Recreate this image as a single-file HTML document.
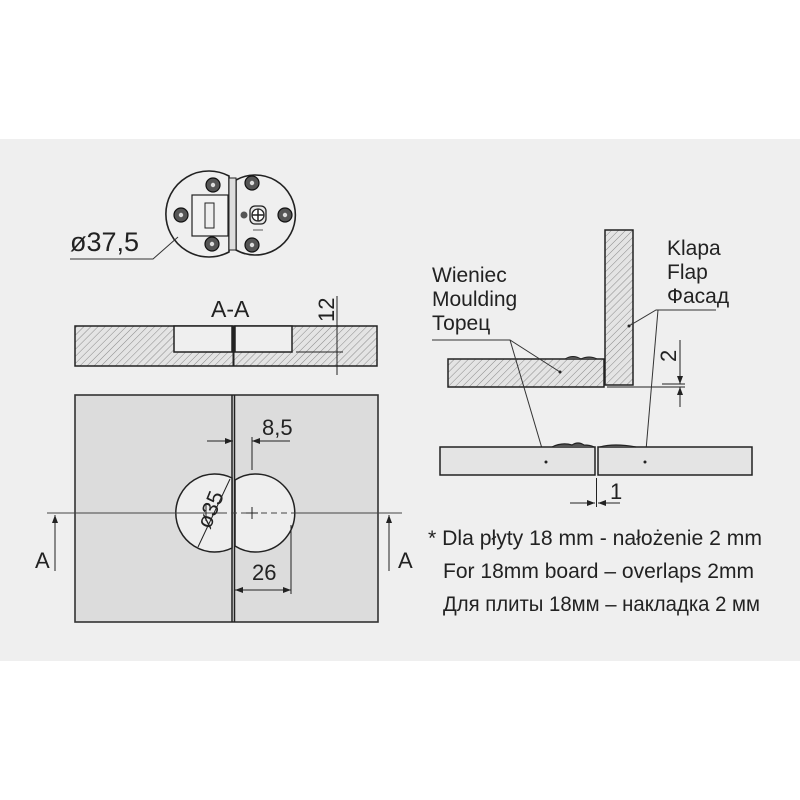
<!DOCTYPE html>
<html><head><meta charset="utf-8"><style>
html,body{margin:0;padding:0;background:#fff;}
svg{display:block;}
text{font-family:"Liberation Sans","DejaVu Sans",sans-serif;fill:#222;}
</style></head><body>
<svg width="800" height="800" viewBox="0 0 800 800" xmlns="http://www.w3.org/2000/svg">
<defs>
<pattern id="h" patternUnits="userSpaceOnUse" width="5" height="5" patternTransform="rotate(45)">
<rect width="5" height="5" fill="#e4e4e4"/><line x1="0" y1="0" x2="0" y2="5" stroke="#8a8a8a" stroke-width="1"/>
</pattern>
<marker id="ar" markerWidth="8" markerHeight="6" refX="8" refY="3" orient="auto" markerUnits="userSpaceOnUse"><path d="M0,0 L8,3 L0,6 z" fill="#222"/></marker>
</defs>
<rect x="0" y="139" width="800" height="522" fill="#efefef"/>

<!-- hinge top view -->
<g stroke="#222" stroke-width="1.6" fill="#efefef">
<path d="M229,176 A43,43 0 1 0 229,252 Z"/>
<path d="M236,180 A40,40 0 1 1 236,250 Z"/>
<rect x="229" y="178" width="7" height="72" fill="#ddd" stroke-width="1"/>
<rect x="192" y="195" width="36" height="41" fill="#f2f2f2" stroke-width="1.2"/>
<rect x="205" y="203" width="9" height="25" fill="#eee" stroke-width="1"/>
</g>
<g fill="#555" stroke="#111" stroke-width="1.2">
<circle cx="213" cy="185" r="7"/><circle cx="181" cy="215" r="7"/><circle cx="212" cy="244" r="7"/>
<circle cx="252" cy="183" r="7"/><circle cx="285" cy="215" r="7"/><circle cx="252" cy="245" r="7"/>
</g>
<g fill="#ddd"><circle cx="213" cy="185" r="2.2"/><circle cx="181" cy="215" r="2.2"/><circle cx="212" cy="244" r="2.2"/>
<circle cx="252" cy="183" r="2.2"/><circle cx="285" cy="215" r="2.2"/><circle cx="252" cy="245" r="2.2"/></g>
<rect x="250" y="206" width="16" height="18" rx="5" fill="#e5e5e5" stroke="#222" stroke-width="1.3"/>
<circle cx="258" cy="215" r="6" fill="#fff" stroke="#222" stroke-width="1.3"/>
<path d="M252,215h12M258,209v12" stroke="#222" stroke-width="1.5"/>
<circle cx="244" cy="215" r="3.5" fill="#555"/>
<path d="M253,230h10" stroke="#333" stroke-width="0.8"/>
<text x="70" y="251" font-size="27">ø37,5</text>
<polyline points="70,259 153,259 178,237" fill="none" stroke="#333" stroke-width="1"/>

<!-- section A-A -->
<text x="211" y="317" font-size="23">A-A</text>
<rect x="75" y="326" width="302" height="40" fill="url(#h)" stroke="#222" stroke-width="1.5"/>
<rect x="174" y="326" width="58" height="26" fill="#efefef" stroke="#222" stroke-width="1.5"/>
<rect x="235" y="326" width="57" height="26" fill="#efefef" stroke="#222" stroke-width="1.5"/>
<line x1="233.5" y1="326" x2="233.5" y2="366" stroke="#222" stroke-width="2"/>
<line x1="337" y1="296" x2="337" y2="375" stroke="#222" stroke-width="1"/>
<line x1="296" y1="352" x2="343" y2="352" stroke="#222" stroke-width="1"/>
<text x="0" y="0" font-size="22" transform="translate(334,322) rotate(-90)">12</text>

<!-- front view -->
<rect x="75" y="395" width="303" height="227" fill="#dcdcdc" stroke="#333" stroke-width="1.6"/>
<line x1="232" y1="395" x2="232" y2="622" stroke="#222" stroke-width="1.5"/>
<line x1="234.5" y1="395" x2="234.5" y2="622" stroke="#222" stroke-width="1.5"/>
<path d="M232,478 A39,39 0 1 0 232,548 Z" fill="#eee" stroke="#222" stroke-width="1.5"/>
<path d="M235,480 A39,39 0 1 1 235,546 Z" fill="#eee" stroke="#222" stroke-width="1.5"/>
<line x1="47" y1="513" x2="402" y2="513" stroke="#444" stroke-width="1" stroke-dasharray="180,4,6,4,6,4,6,4,6,4,6,4,6,4,200"/>
<path d="M206,505v16M246,513h12M252,507v12" stroke="#222" stroke-width="1"/>
<line x1="230" y1="479" x2="198" y2="547" stroke="#222" stroke-width="1"/>
<text x="0" y="0" font-size="22" transform="translate(210,530) rotate(-68)">ø35</text>
<line x1="207" y1="441" x2="233" y2="441" stroke="#222" stroke-width="1" marker-end="url(#ar)"/>
<line x1="290" y1="441" x2="252" y2="441" stroke="#222" stroke-width="1" marker-end="url(#ar)"/>
<line x1="252" y1="437" x2="252" y2="470" stroke="#222" stroke-width="1"/>
<text x="262" y="435" font-size="22">8,5</text>
<line x1="291" y1="525" x2="291" y2="594" stroke="#222" stroke-width="1"/>
<line x1="262" y1="590" x2="235" y2="590" stroke="#222" stroke-width="1" marker-end="url(#ar)"/>
<line x1="262" y1="590" x2="291" y2="590" stroke="#222" stroke-width="1" marker-end="url(#ar)"/>
<text x="252" y="580" font-size="22">26</text>
<line x1="55" y1="571" x2="55" y2="515" stroke="#222" stroke-width="1" marker-end="url(#ar)"/>
<text x="35" y="568" font-size="22">A</text>
<line x1="389" y1="571" x2="389" y2="515" stroke="#222" stroke-width="1" marker-end="url(#ar)"/>
<text x="398" y="568" font-size="22">A</text>

<!-- right side -->
<rect x="605" y="230" width="28" height="155" fill="url(#h)" stroke="#222" stroke-width="1.5"/>
<rect x="448" y="359" width="156" height="28" fill="url(#h)" stroke="#222" stroke-width="1.5"/>
<path d="M565,359 q8,-5 16,0 q8,-4 16,0" fill="#555" stroke="#222" stroke-width="1"/>
<line x1="607" y1="387" x2="685" y2="387" stroke="#222" stroke-width="1"/>
<line x1="662" y1="384" x2="685" y2="384" stroke="#222" stroke-width="1"/>
<line x1="680" y1="340" x2="680" y2="384" stroke="#222" stroke-width="1" marker-end="url(#ar)"/>
<line x1="680" y1="407" x2="680" y2="387" stroke="#222" stroke-width="1" marker-end="url(#ar)"/>
<text x="0" y="0" font-size="22" transform="translate(676,362) rotate(-90)">2</text>
<text x="432" y="282" font-size="21">Wieniec</text>
<text x="432" y="306" font-size="21">Moulding</text>
<text x="432" y="330" font-size="21">Торец</text>
<polyline points="432,340 510,340 560,372" fill="none" stroke="#333" stroke-width="1"/>
<line x1="510" y1="340" x2="546" y2="462" stroke="#333" stroke-width="1"/>
<text x="667" y="255" font-size="21">Klapa</text>
<text x="667" y="279" font-size="21">Flap</text>
<text x="667" y="303" font-size="21">Фасад</text>
<polyline points="716,310 656,310 629,326" fill="none" stroke="#333" stroke-width="1"/>
<line x1="658" y1="310" x2="645" y2="462" stroke="#333" stroke-width="1"/>
<rect x="440" y="447" width="155" height="28" fill="#e4e4e4" stroke="#222" stroke-width="1.5"/>
<rect x="598" y="447" width="154" height="28" fill="#e4e4e4" stroke="#222" stroke-width="1.5"/>
<path d="M552,447 q10,-5 20,-2 q6,-4 12,0 q6,0 10,2 M600,447 q14,-4 36,0" fill="#555" stroke="#222" stroke-width="1.2"/>
<circle cx="546" cy="462" r="1.5" fill="#222"/><circle cx="645" cy="462" r="1.5" fill="#222"/>
<circle cx="560" cy="372" r="1.5" fill="#222"/><circle cx="629" cy="326" r="1.5" fill="#222"/>
<line x1="596.5" y1="478" x2="596.5" y2="507" stroke="#222" stroke-width="1"/>
<line x1="570" y1="503" x2="595" y2="503" stroke="#222" stroke-width="1" marker-end="url(#ar)"/>
<line x1="620" y1="503" x2="598" y2="503" stroke="#222" stroke-width="1" marker-end="url(#ar)"/>
<text x="610" y="499" font-size="22">1</text>

<!-- notes -->
<text x="428" y="545" font-size="21" textLength="334" lengthAdjust="spacingAndGlyphs">* Dla płyty 18 mm - nałożenie 2 mm</text>
<text x="443" y="578" font-size="21" textLength="311" lengthAdjust="spacingAndGlyphs">For 18mm board – overlaps 2mm</text>
<text x="443" y="611" font-size="21" textLength="317" lengthAdjust="spacingAndGlyphs">Для плиты 18мм – накладка 2 мм</text>
</svg>
</body></html>
